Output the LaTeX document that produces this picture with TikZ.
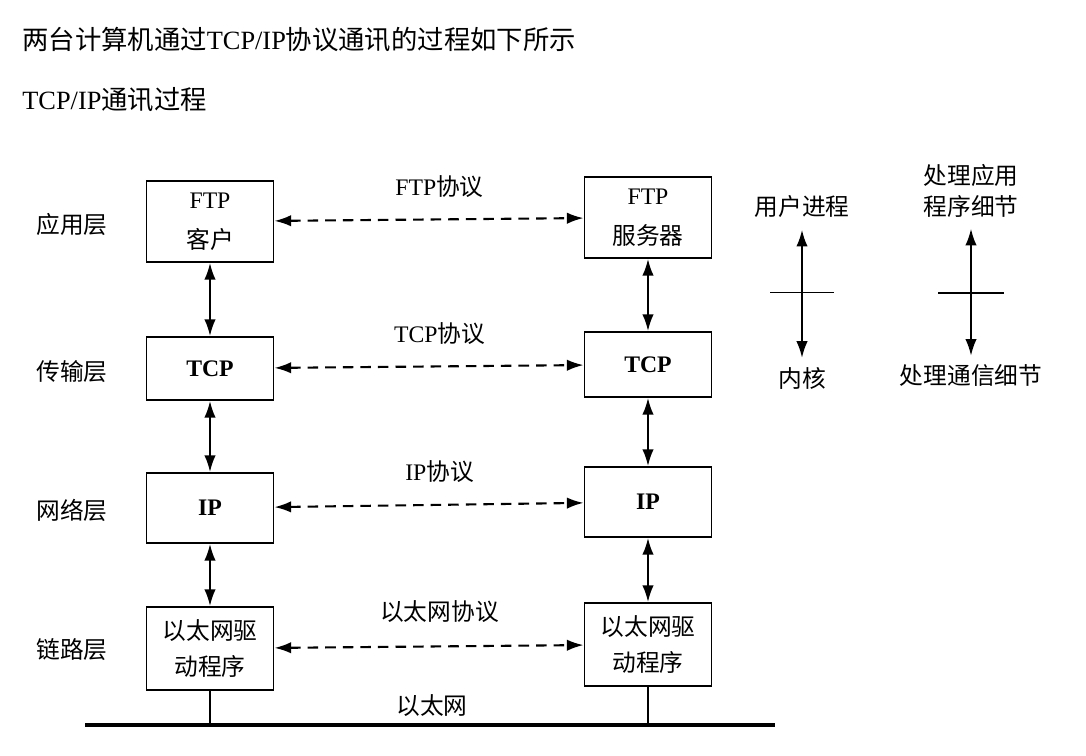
\documentclass[tikz,border=0pt]{standalone}
\usepackage{fontspec}
\setmainfont{Liberation Serif}
\newfontfamily\zhfont{Noto Sans CJK SC}
\newcommand{\zh}[1]{{\zhfont #1}}
\usetikzlibrary{arrows.meta,positioning,calc}

\begin{document}
\begin{tikzpicture}[
    x=0.02cm, y=-0.02cm,
    every node/.style={font=\fontsize{13.5}{17}\selectfont, inner sep=0pt},
    layerbox/.style={draw, line width=1.1pt, minimum width=2.54cm, align=center},
    layername/.style={font=\zhfont\fontsize{13.5}{17}\selectfont, align=center},
    updown/.style={line width=1.1pt, {Latex[length=9.5pt,width=6.5pt]}-{Latex[length=9.5pt,width=6.5pt]}},
    peerwire/.style={line width=1.2pt, dash pattern=on 6pt off 4pt, {Latex[length=9.5pt,width=6.5pt]}-{Latex[length=9.5pt,width=6.5pt]}},
    etherwire/.style={line width=2.8pt},
    tickline/.style={line width=1.1pt}
  ]
  \useasboundingbox (0,0) rectangle (1086,756);

  % titles
  \node[anchor=west, font=\fontsize{15}{18}\selectfont] (title) at (22,40) {\zh{两台计算机通过}TCP/IP\zh{协议通讯的过程如下所示}};
  \node[anchor=west, font=\fontsize{15}{18}\selectfont] (subtitle) at (22,100) {TCP/IP\zh{通讯过程}};

  % layer names
  \node[layername] (appname) at (72,225) {应用层};
  \node[layername] (transname) at (72,372) {传输层};
  \node[layername] (netname) at (72,510) {网络层};
  \node[layername] (linkname) at (72,650) {链路层};

  % client stack
  \node[layerbox, minimum height=1.62cm] (ftpL) at (210,221.5) {FTP\\[6pt]\zh{客户}};
  \node[layerbox, minimum height=1.26cm] (tcpL) at (210,368.5) {\textbf{TCP}};
  \node[layerbox, minimum height=1.40cm] (ipL) at (210,508) {\textbf{IP}};
  \node[layerbox, minimum height=1.66cm] (ethL) at (210,648.5) {\zh{以太网驱}\\[3pt]\zh{动程序}};

  % server stack
  \node[layerbox, minimum height=1.62cm] (ftpR) at (648,217.5) {FTP\\[6pt]\zh{服务器}};
  \node[layerbox, minimum height=1.30cm] (tcpR) at (648,364.5) {\textbf{TCP}};
  \node[layerbox, minimum height=1.40cm] (ipR) at (648,502) {\textbf{IP}};
  \node[layerbox, minimum height=1.66cm] (ethR) at (648,644.5) {\zh{以太网驱}\\[3pt]\zh{动程序}};

  \draw[updown] (ftpL) -- (tcpL);
  \draw[updown] (tcpL) -- (ipL);
  \draw[updown] (ipL) -- (ethL);
  \draw[updown] (ftpR) -- (tcpR);
  \draw[updown] (tcpR) -- (ipR);
  \draw[updown] (ipR) -- (ethR);

  % peer protocols
  \draw[peerwire] (ftpL) -- node[midway, above=12pt, xshift=6pt] (ftpproto) {FTP\zh{协议}} (ftpR);
  \draw[peerwire] (tcpL) -- node[midway, above=12pt, xshift=6pt] (tcpproto) {TCP\zh{协议}} (tcpR);
  \draw[peerwire] (ipL) -- node[midway, above=12pt, xshift=6pt] (ipproto) {IP\zh{协议}} (ipR);
  \draw[peerwire] (ethL) -- node[midway, above=13pt, xshift=6pt] (ethproto) {\zh{以太网协议}} (ethR);

  % ethernet cable
  \coordinate (cableA) at (85,725);
  \coordinate (cableB) at (775,725);
  \draw[etherwire] (cableA) -- (cableB);
  \draw[line width=0.8pt] (ethL) -- (ethL |- cableA);
  \draw[line width=0.8pt] (ethR) -- (ethR |- cableA);
  \node[layername] (ethernet) at (432,706) {以太网};

  % user / kernel
  \node[layername] (userproc) at (802,207) {用户进程};
  \node[layername] (kernel) at (802,378) {内核};
  \draw[updown, shorten <=6.5pt, shorten >=5pt] (userproc) -- (kernel);
  \draw[tickline] ($(userproc)!0.5!(kernel)+(-32,0)$) -- ++(64,0);

  \node[layername] (appdetail) at (971,191) {处理应用\\[1pt]程序细节};
  \node[layername] (commdetail) at (971,375) {处理通信细节};
  \draw[updown, shorten <=6pt, shorten >=4.5pt] (appdetail) -- (commdetail);
  \draw[tickline] ($(appdetail)!0.5!(commdetail)+(-33,10)$) -- ++(66,0);
\end{tikzpicture}
\end{document}
